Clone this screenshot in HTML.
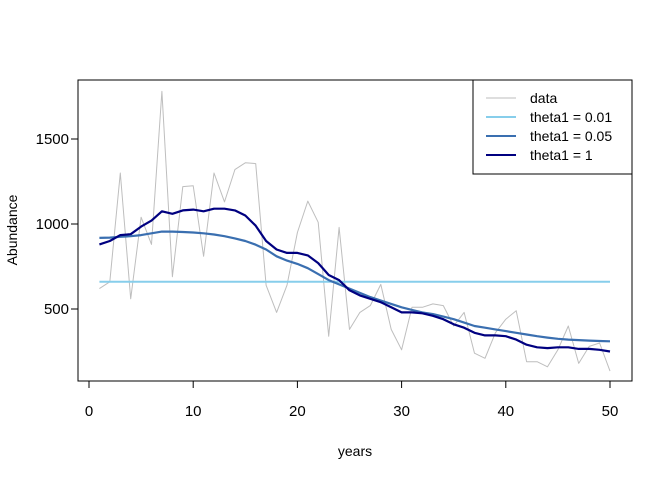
<!DOCTYPE html>
<html><head><meta charset="utf-8"><style>
html,body{margin:0;padding:0;background:#fff;}
svg text{font-family:"Liberation Sans",Arial,sans-serif;fill:#000;}
</style></head><body>
<svg id="s" width="672" height="480" viewBox="0 0 672 480" xmlns="http://www.w3.org/2000/svg">
<rect x="0" y="0" width="672" height="480" fill="#fff"/>
<g id="lines"></g>
<rect x="78" y="80" width="554" height="301" fill="none" stroke="#000" stroke-width="1"/>
<g stroke="#000" stroke-width="1">
<line x1="89" y1="381" x2="610" y2="381"/>
<line x1="89" y1="381" x2="89" y2="388"/>
<line x1="193.2" y1="381" x2="193.2" y2="388"/>
<line x1="297.4" y1="381" x2="297.4" y2="388"/>
<line x1="401.6" y1="381" x2="401.6" y2="388"/>
<line x1="505.8" y1="381" x2="505.8" y2="388"/>
<line x1="610" y1="381" x2="610" y2="388"/>
<line x1="78" y1="139" x2="78" y2="309"/>
<line x1="71" y1="139" x2="78" y2="139"/>
<line x1="71" y1="224" x2="78" y2="224"/>
<line x1="71" y1="309" x2="78" y2="309"/>
</g>
<g font-size="15" text-anchor="middle">
<text x="89" y="416">0</text><text x="193.2" y="416">10</text><text x="297.4" y="416">20</text>
<text x="401.6" y="416">30</text><text x="505.8" y="416">40</text><text x="610" y="416">50</text>
<text x="355" y="456" font-size="14">years</text>
<text transform="translate(17,230) rotate(-90)" font-size="14">Abundance</text>
</g>
<g font-size="15" text-anchor="end">
<text x="69" y="144">1500</text>
<text x="69" y="229">1000</text>
<text x="69" y="314">500</text>
</g>
<rect x="473" y="80" width="159" height="94" fill="#fff" stroke="#000"/>
<g stroke-width="2">
<line x1="486" y1="98" x2="516" y2="98" stroke="#bebebe" stroke-width="1"/>
<line x1="486" y1="117" x2="516" y2="117" stroke="#87ceeb"/>
<line x1="486" y1="136" x2="516" y2="136" stroke="#3a6fb0"/>
<line x1="486" y1="155" x2="516" y2="155" stroke="#000080"/>
</g>
<g font-size="14">
<text x="530" y="103">data</text>
<text x="530" y="122">theta1 = 0.01</text>
<text x="530" y="141">theta1 = 0.05</text>
<text x="530" y="160">theta1 = 1</text>
</g>
</svg>
<script>
var X=function(t){return 89+10.42*t;},Y=function(v){return 309-(v-500)*0.17;};
var d=[620,660,1300,560,1040,880,1780,690,1220,1225,810,1300,1130,1320,1360,1355,640,480,640,950,1135,1010,340,980,380,480,520,645,380,260,510,510,530,520,400,480,240,210,360,440,490,190,190,160,260,400,180,280,300,135];
var a=[918,920,925,928,935,945,955,955,953,950,945,938,928,915,900,878,850,810,785,765,740,705,670,645,620,595,570,550,530,510,495,480,470,455,440,420,400,390,380,370,360,350,340,332,325,320,317,314,312,310];
var b=[880,900,935,940,985,1020,1075,1060,1080,1085,1075,1090,1090,1080,1050,990,900,850,830,830,815,770,700,670,610,580,560,540,510,480,480,475,460,440,410,390,360,345,345,340,320,290,275,270,275,275,265,265,260,250];
function pl(arr,c,w){var p=arr.map(function(v,i){return X(i+1).toFixed(1)+","+Y(v).toFixed(1);}).join(" ");
return '<polyline points="'+p+'" fill="none" stroke="'+c+'" stroke-width="'+w+'" stroke-linejoin="round"/>';}
document.getElementById("lines").innerHTML=pl(d,"#bebebe",1)+
'<line x1="'+X(1)+'" y1="'+Y(660)+'" x2="'+X(50)+'" y2="'+Y(660)+'" stroke="#87ceeb" stroke-width="2"/>'+
pl(a,"#3a6fb0",2.2)+pl(b,"#000080",2.2);
</script>
</body></html>
